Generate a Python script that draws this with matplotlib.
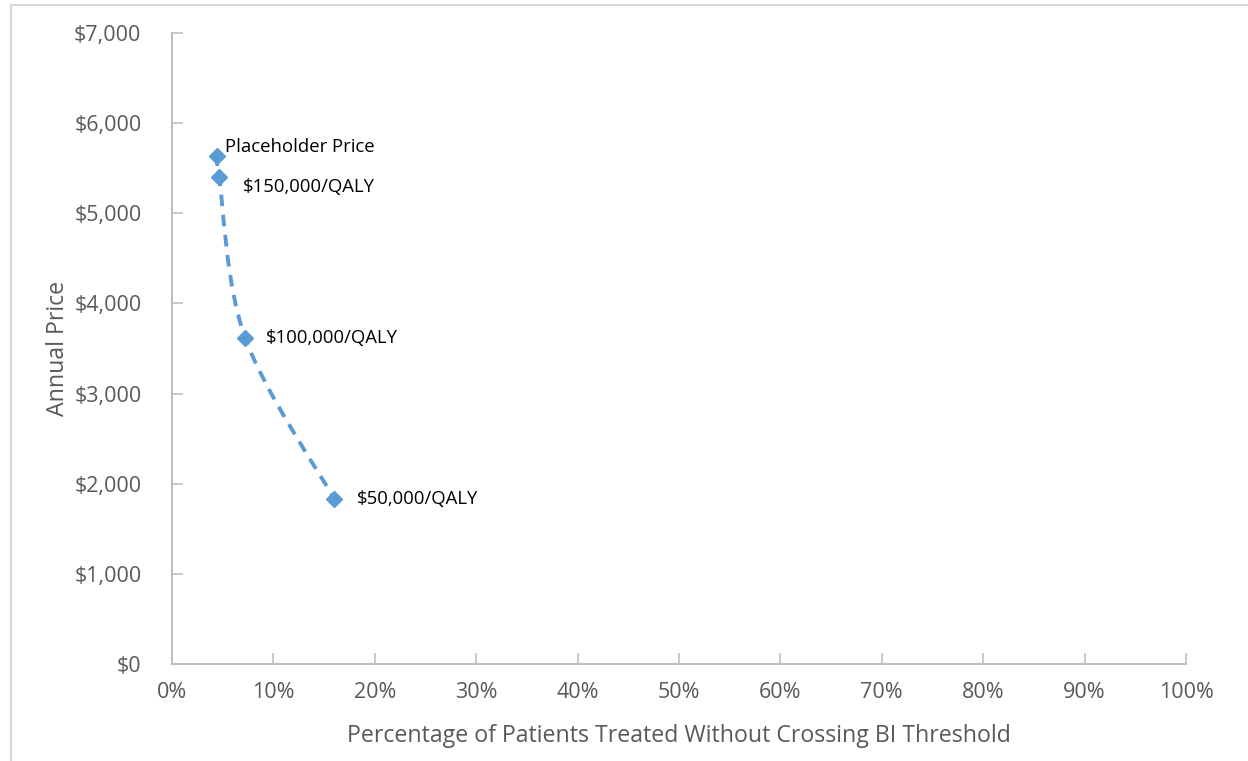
import numpy as np
import matplotlib
matplotlib.use("Agg")
import matplotlib.pyplot as plt
from matplotlib.path import Path
from matplotlib.patches import PathPatch, Rectangle
from matplotlib.ticker import FuncFormatter

# data
labels = ["Placeholder Price", "$150,000/QALY", "$100,000/QALY", "$50,000/QALY"]
pct_treated = [0.0444, 0.0464, 0.072, 0.160]
annual_price = [5640, 5405, 3620, 1830]

BLUE = "#5B9BD5"
GREY_TXT = "#595959"
AXIS_GREY = "#BFBFBF"

plt.rcParams["font.family"] = ["Open Sans", "DejaVu Sans"]


def smooth_path(x, y, t=0.5 / 3):
    # excel-ish smoothed line: cubic bezier segments through the points
    x = np.asarray(x, float)
    y = np.asarray(y, float)
    n = len(x)
    verts = [(x[0], y[0])]
    codes = [Path.MOVETO]
    for i in range(n - 1):
        p0 = i - 1 if i > 0 else i
        p3 = i + 2 if i + 2 < n else i + 1
        c1 = (x[i] + t * (x[i + 1] - x[p0]), y[i] + t * (y[i + 1] - y[p0]))
        c2 = (x[i + 1] - t * (x[p3] - x[i]), y[i + 1] - t * (y[p3] - y[i]))
        verts += [c1, c2, (x[i + 1], y[i + 1])]
        codes += [Path.CURVE4] * 3
    return Path(verts, codes)


fig = plt.figure(figsize=(12.48, 7.61), dpi=100)
ax = fig.add_axes([172 / 1248, 1 - 664 / 761, (1186 - 172) / 1248, (664 - 33) / 761])

# outer chart frame (left/top edges visible)
fig.patches.append(Rectangle((11 / 1248, -0.01), 1.2, 1 - 5 / 761 + 0.01, transform=fig.transFigure,
                             fill=False, edgecolor="#D0D0D0", lw=1.2))

ax.add_patch(PathPatch(smooth_path(pct_treated, annual_price), fill=False, edgecolor=BLUE,
                       lw=2.8, linestyle=(0, (3, 2.2)), capstyle="butt"))
ax.plot(pct_treated, annual_price, linestyle="none", marker="D", ms=8.5, color=BLUE, zorder=3)

offsets = [(6, 6), (17.5, -7.5), (15, 0), (16.5, 0)]
for lab, xv, yv, off in zip(labels, pct_treated, annual_price, offsets):
    ax.annotate(lab, (xv, yv), xytext=off, textcoords="offset points", fontsize=13.3,
                color="black", va="center", ha="left")

ax.set_xlim(0, 1)
ax.set_ylim(0, 7000)
ax.set_xticks(np.arange(0, 1.01, 0.1))
ax.set_yticks(np.arange(0, 7001, 1000))
ax.xaxis.set_major_formatter(FuncFormatter(lambda v, p: "{:.0f}%".format(v * 100)))
ax.yaxis.set_major_formatter(FuncFormatter(lambda v, p: "${:,.0f}".format(v)))

for s in ["top", "right"]:
    ax.spines[s].set_visible(False)
for s in ["left", "bottom"]:
    ax.spines[s].set_color(AXIS_GREY)
    ax.spines[s].set_linewidth(1.5)
ax.tick_params(direction="in", length=8, width=1.2, color=AXIS_GREY, labelcolor=GREY_TXT,
               labelsize=15.5)
ax.tick_params(axis="x", pad=13)
ax.tick_params(axis="y", pad=22)

ax.set_xlabel("Percentage of Patients Treated Without Crossing BI Threshold", fontsize=16.7,
              color=GREY_TXT, labelpad=15)
ax.set_ylabel("Annual Price", fontsize=16.7, color=GREY_TXT, labelpad=3)

fig.savefig("out.png", dpi=100)
